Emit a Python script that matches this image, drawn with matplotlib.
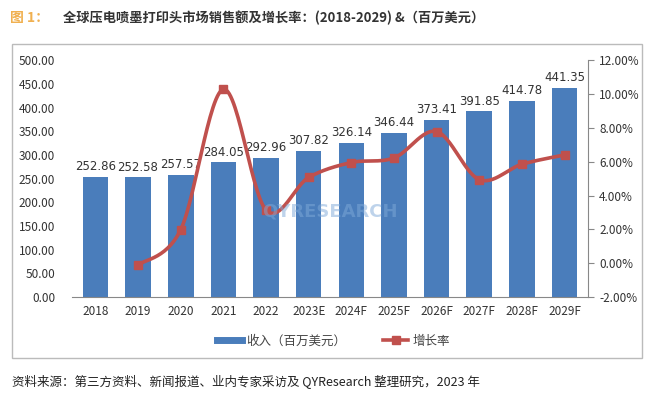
import numpy as np
import matplotlib.pyplot as plt
from matplotlib.patches import Rectangle
from matplotlib.lines import Line2D

plt.rcParams['font.family'] = ['Noto Sans CJK SC', 'DejaVu Sans']

years = ['2018', '2019', '2020', '2021', '2022', '2023E', '2024F', '2025F',
         '2026F', '2027F', '2028F', '2029F']
revenue = [252.86, 252.58, 257.57, 284.05, 292.96, 307.82, 326.14, 346.44,
           373.41, 391.85, 414.78, 441.35]
growth = [-0.11, 1.98, 10.28, 3.14, 5.07, 5.95, 6.22, 7.78, 4.94, 5.85, 6.40]

bar_color = '#4a7dbb'
line_color = '#c0504d'


def smooth(xs, ys, n=30):
    # excel-like smoothed line (catmull-rom through the points)
    xs = np.asarray(xs, float)
    ys = np.asarray(ys, float)
    px, py = [], []
    for i in range(len(xs) - 1):
        x0, y0 = (xs[i - 1], ys[i - 1]) if i > 0 else (xs[i], ys[i])
        x3, y3 = (xs[i + 2], ys[i + 2]) if i + 2 < len(xs) else (xs[i + 1], ys[i + 1])
        x1, y1, x2, y2 = xs[i], ys[i], xs[i + 1], ys[i + 1]
        c1x, c1y = x1 + (x2 - x0) / 6, y1 + (y2 - y0) / 6
        c2x, c2y = x2 - (x3 - x1) / 6, y2 - (y3 - y1) / 6
        t = np.linspace(0, 1, n)
        b = [(1 - t) ** 3, 3 * (1 - t) ** 2 * t, 3 * (1 - t) * t ** 2, t ** 3]
        px.extend(b[0] * x1 + b[1] * c1x + b[2] * c2x + b[3] * x2)
        py.extend(b[0] * y1 + b[1] * c1y + b[2] * c2y + b[3] * y2)
    return px, py


fig = plt.figure(figsize=(6.6, 3.96), dpi=100)
ax = fig.add_axes([0.109, 0.25, 0.782, 0.598])
x = np.arange(len(years))
ax.bar(x, revenue, width=0.6, color=bar_color, zorder=2)
for xi, v in zip(x, revenue):
    ax.text(xi, v + 8, f'{v:.2f}', ha='center', va='bottom', fontsize=8.5,
            color='#333333', family='DejaVu Sans')
ax.set_ylim(0, 500)
ax.set_yticks(np.arange(0, 501, 50))
ax.set_yticklabels([f'{v:.2f}' for v in np.arange(0, 501, 50)])
ax.set_xlim(-0.55, len(years) - 0.45)
ax.set_xticks(x)
ax.set_xticklabels(years)
for s in ['top', 'right']:
    ax.spines[s].set_visible(False)
ax.spines['left'].set_visible(False)
ax.spines['bottom'].set_color('#888888')
ax.tick_params(axis='both', length=0, labelsize=8.5, colors='#333333', pad=6)
ax.tick_params(axis='y', pad=12)

ax2 = ax.twinx()
ax2.set_ylim(-2, 12)
ax2.set_yticks(np.arange(-2, 12.1, 2))
ax2.set_yticklabels([f'{v:.2f}%' for v in np.arange(-2, 12.1, 2)])
for s in ['top', 'left', 'bottom']:
    ax2.spines[s].set_visible(False)
ax2.spines['right'].set_color('#888888')
ax2.tick_params(axis='y', direction='out', length=4, color='#888888',
                labelsize=8.5, labelcolor='#333333', pad=4)
gx = x[1:]
sx, sy = smooth(gx, growth)
ax2.plot(sx, sy, color=line_color, lw=2.6, zorder=3)
ax2.plot(gx, growth, ls='none', marker='s', ms=6, color=line_color, zorder=4)

# watermark
fig.text(0.50, 0.465, 'QYRESEARCH', fontsize=13, fontweight='bold',
         color='#7fa9d8', alpha=0.5, ha='center', va='center',
         family='DejaVu Sans')

# chart border
fig.patches.append(Rectangle((0.018, 0.095), 0.955, 0.795, transform=fig.transFigure,
                             fill=False, edgecolor='#bbbbbb', lw=1))

handles = [Line2D([0], [0], color=bar_color, lw=5),
           Line2D([0], [0], color=line_color, lw=2.6, marker='s', ms=6)]
fig.legend(handles, ['收入（百万美元）', '增长率'], loc='center',
           bbox_to_anchor=(0.505, 0.138), ncol=2, frameon=False, fontsize=9,
           handlelength=2.0, handletextpad=0.3, columnspacing=3.0,
           labelcolor='#444444')

fig.text(0.015, 0.955, '图 1：', fontsize=10, color='#f0b050', fontweight='bold',
         va='center')
fig.text(0.095, 0.955, '全球压电喷墨打印头市场销售额及增长率：(2018-2029) &（百万美元）',
         fontsize=9.5, color='#333333', fontweight='bold', va='center')
fig.text(0.018, 0.035, '资料来源：第三方资料、新闻报道、业内专家采访及 QYResearch 整理研究，2023 年',
         fontsize=9, color='#222222', va='center')

fig.savefig('out.png', dpi=100, facecolor='white')
